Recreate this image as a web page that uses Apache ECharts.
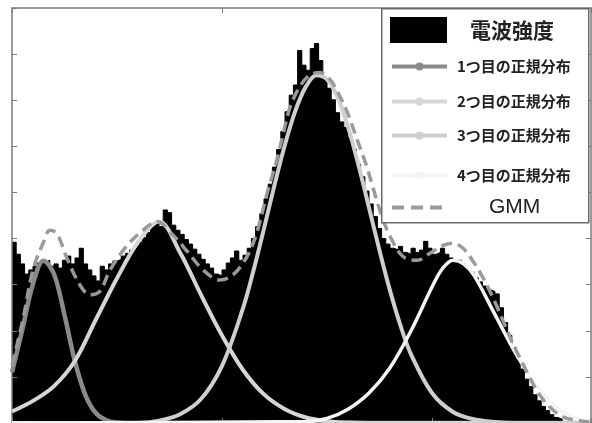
<!DOCTYPE html>
<html>
<head>
<meta charset="utf-8">
<script src="https://cdn.jsdelivr.net/npm/echarts@6/dist/echarts.min.js"></script>
<style>
  html, body { margin: 0; padding: 0; background: #fff; }
  #chart { width: 592px; height: 423px; }
</style>
</head>
<body>
<div id="chart"></div>
<script>
// 電波強度 histogram, bins of 0.2 starting at 0
const binStart = 0;
const binWidth = 0.2;
const intensity = [
  3.92, 3.66, 3.45, 3.23, 3.32, 3.40, 3.47, 3.49, 3.53, 3.40,
  3.45, 3.36, 3.53, 3.62, 3.45, 3.58, 3.79, 3.45, 3.32, 3.19,
  3.08, 3.40, 3.32, 3.45, 3.51, 3.55, 3.62, 3.68, 3.75, 3.83,
  3.92, 4.02, 4.13, 4.26, 4.32, 4.26, 4.62, 4.56, 4.29, 4.18,
  4.09, 3.98, 3.88, 3.77, 3.66, 3.55, 3.45, 3.36, 3.23, 3.19,
  3.32, 3.47, 3.58, 3.73, 3.53, 3.64, 3.79, 4.00, 4.26, 4.54,
  4.86, 5.18, 5.55, 5.93, 6.32, 6.75, 7.11, 7.33, 8.08, 7.76,
  7.65, 8.12, 8.23, 7.86, 7.48, 7.26, 7.01, 6.73, 6.53, 6.41,
  6.19, 5.94, 5.61, 5.34, 5.03, 4.75, 4.48, 4.22, 4.00, 3.88,
  3.79, 3.75, 3.83, 3.70, 3.66, 3.79, 3.70, 3.75, 3.94, 3.79,
  3.66, 3.70, 3.79, 3.66, 3.58, 3.53, 3.53, 3.45, 3.36, 3.27,
  3.15, 3.06, 2.97, 2.89, 2.85, 2.80, 2.50, 2.18, 1.90, 1.64,
  1.38, 1.17, 0.95, 0.79, 0.61, 0.48, 0.36, 0.27, 0.18, 0.12,
  0.08
];

// 1つ目の正規分布
const dist1X = [0, 0.5, 1, 1.5, 2, 2.5, 3, 3.5, 4, 4.5, 5, 5.5, 6, 27.5];
const dist1Y = [1.10, 2.04, 3.02, 3.52, 3.23, 2.34, 1.33, 0.60, 0.21, 0.06, 0.01, 0, 0, 0];

// 2つ目の正規分布
const dist2X = [0, 1, 2, 3, 4, 5, 6, 7, 8, 9, 10, 11, 12, 13, 14, 15, 16, 17, 27.5];
const dist2Y = [0.25, 0.48, 0.80, 1.35, 2.25, 3.14, 3.92, 4.37, 3.70, 2.78, 1.90, 1.15, 0.62, 0.30, 0.12, 0.04, 0.01, 0, 0];

// 3つ目の正規分布
const dist3X = [0, 6, 7, 8, 9, 10, 11, 11.5, 12, 12.5, 13, 13.5, 14, 14.5, 15, 15.5, 16, 16.5, 17, 17.5, 18, 18.5, 19, 20, 21, 22, 23, 24, 27.5];
const dist3Y = [0, 0, 0.05, 0.19, 0.52, 1.24, 2.49, 3.31, 4.22, 5.16, 6.04, 6.78, 7.30, 7.54, 7.45, 7.07, 6.42, 5.59, 4.67, 3.74, 2.87, 2.11, 1.49, 0.65, 0.24, 0.08, 0.02, 0, 0];

// 4つ目の正規分布
const dist4X = [0, 14, 15, 16, 17, 18, 19, 20, 20.5, 21, 21.5, 22, 23, 24, 25, 26, 27, 27.5];
const dist4Y = [0, 0.03, 0.10, 0.30, 0.65, 1.20, 2.00, 2.95, 3.35, 3.53, 3.45, 3.20, 2.35, 1.50, 0.80, 0.30, 0.08, 0.04];

// GMM
const gmmX = [0, 0.5, 1.0, 1.48, 1.81, 2.14, 2.62, 3.24, 3.71, 4.19, 4.67, 5.48, 6.24, 6.9, 7.67, 8.33, 9.1, 9.9, 10.52, 11.19, 11.67,
  12.14, 12.62, 12.9, 13.24, 13.71, 14.19, 14.67, 15.14, 15.62, 16.0, 16.43, 16.9, 17.19, 17.6, 18.0, 18.62, 19.29, 19.9,
  20.52, 21.0, 21.48, 21.95, 22.43, 22.9, 23.38, 23.86, 24.33, 24.81, 25.29, 25.95, 26.43, 27.5];
const gmmY = [1.25, 2.2, 3.32, 3.9, 4.18, 4.11, 3.57, 2.99, 2.78, 2.86, 3.32, 3.85, 4.18, 4.37, 4.07, 3.73, 3.32, 3.10, 3.21, 3.61, 4.15,
  4.97, 5.72, 6.25, 6.85, 7.3, 7.55, 7.6, 7.45, 7.08, 6.7, 6.15, 5.55, 5.1, 4.5, 4.05, 3.61, 3.53, 3.68,
  3.85, 3.90, 3.79, 3.51, 3.15, 2.72, 2.22, 1.71, 1.28, 0.85, 0.51, 0.21, 0.10, 0.02];

const names = ['電波強度', '1つ目の正規分布', '2つ目の正規分布', '3つ目の正規分布', '4つ目の正規分布', 'GMM'];

function pairs(xs, ys) {
  return xs.map((x, i) => [x, ys[i]]);
}

const histData = intensity.map((v, i) => [binStart + i * binWidth, v]);
histData.push([binStart + intensity.length * binWidth, 0]);

const axisGray = '#7a7a7a';
const jp = '"Noto Sans CJK JP", sans-serif';

function frameX(pos) {
  return {
    type: 'value', position: pos, min: 0, max: 27.57, interval: 10, z: 3,
    axisLine: { show: true, onZero: false, lineStyle: { color: axisGray, width: 1.5 } },
    axisTick: { show: true, inside: true, length: 5, lineStyle: { color: axisGray } },
    axisLabel: { show: false },
    splitLine: { show: false }
  };
}
function frameY(pos) {
  return {
    type: 'value', position: pos, min: 0, max: 9, interval: 1, z: 3,
    axisLine: { show: true, onZero: false, lineStyle: { color: axisGray, width: 1.5 } },
    axisTick: { show: true, inside: true, length: 5, lineStyle: { color: axisGray } },
    axisLabel: { show: false },
    splitLine: { show: false }
  };
}

function curve(name, data, color, width) {
  return {
    name: name, type: 'line', data: data, smooth: 0.35,
    symbol: 'circle', showSymbol: false, z: 4,
    lineStyle: { color: color, width: width },
    itemStyle: { color: color }
  };
}

function lineLegend(name, top) {
  return {
    data: [name], left: 390, top: top, itemWidth: 55, itemHeight: 10,
    padding: 0, selectedMode: false, z: 10,
    lineStyle: { width: 4 },
    textStyle: { fontFamily: jp, fontSize: 15, fontWeight: 'bold', color: '#222', padding: [0, 0, 0, 5] }
  };
}

const chart = echarts.init(document.getElementById('chart'));
chart.setOption({
  animation: false,
  backgroundColor: '#fff',
  grid: { left: 12, right: 1, top: 8, bottom: -1 },
  xAxis: [frameX('bottom'), frameX('top')],
  yAxis: [frameY('left'), frameY('right')],
  graphic: [{
    type: 'rect', left: 381, top: 8, z: 8,
    shape: { width: 207, height: 214 },
    style: { fill: '#fff', stroke: '#6a6a6a', lineWidth: 1.5 }
  }],
  legend: [
    {
      data: [{ name: names[0], icon: 'rect' }], left: 390, top: 17, itemWidth: 57, itemHeight: 26,
      padding: 0, selectedMode: false, z: 10,
      textStyle: { fontFamily: jp, fontSize: 21, fontWeight: 'bold', color: '#222', padding: [0, 0, 0, 18] }
    },
    lineLegend(names[1], 59),
    lineLegend(names[2], 94),
    lineLegend(names[3], 128),
    lineLegend(names[4], 168),
    {
      data: [names[5]], left: 390, top: 197, itemWidth: 50, itemHeight: 10,
      padding: 0, selectedMode: false, z: 10,
      itemStyle: { opacity: 0 },
      lineStyle: { width: 4, type: [12, 7] },
      textStyle: { fontFamily: '"Liberation Sans", Arial, sans-serif', fontSize: 21, color: '#222', padding: [0, 0, 0, 42] }
    }
  ],
  series: [
    {
      name: names[0], type: 'line', data: histData, step: 'end', symbol: 'none', z: 2,
      lineStyle: { color: '#000', width: 1 },
      itemStyle: { color: '#000' },
      areaStyle: { color: '#000', opacity: 1 }
    },
    curve(names[1], pairs(dist1X, dist1Y), '#8a8a8a', 4.5),
    curve(names[2], pairs(dist2X, dist2Y), '#d6d6d6', 4),
    curve(names[3], pairs(dist3X, dist3Y), '#cfcfcf', 4),
    curve(names[4], pairs(dist4X, dist4Y), '#f4f4f4', 3.5),
    {
      name: names[5], type: 'line', data: pairs(gmmX, gmmY), smooth: 0.35, symbol: 'none', z: 5,
      lineStyle: { color: '#9a9a9a', width: 3.5, type: [11, 6] },
      itemStyle: { color: '#9a9a9a' }
    }
  ]
});
</script>
</body>
</html>
